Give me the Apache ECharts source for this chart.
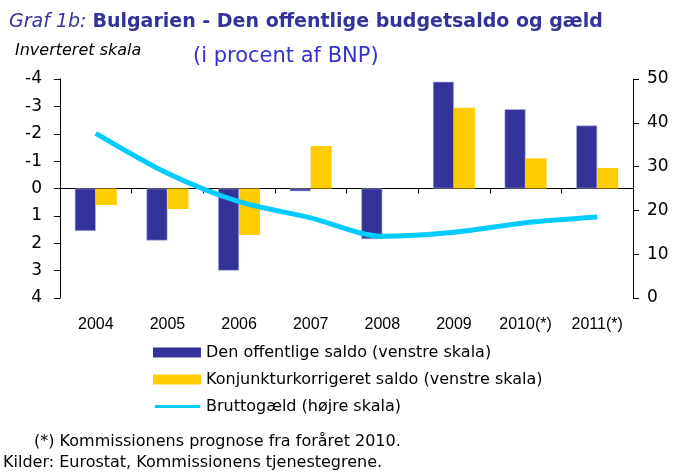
<!DOCTYPE html>
<html>
<head>
<meta charset="utf-8">
<script src="https://cdn.jsdelivr.net/npm/echarts@6/dist/echarts.min.js"></script>
<style>
  html, body { margin: 0; padding: 0; background: #fff; }
  #chart { width: 674px; height: 475px; }
</style>
</head>
<body>
<div id="chart"></div>
<script>
var years = ['2004', '2005', '2006', '2007', '2008', '2009', '2010(*)', '2011(*)']
// inverted scale: deficit is positive (drawn downward)
var saldo = [1.55, 1.9, 3.0, 0.1, 1.85, -3.9, -2.9, -2.3]
var konjunktur = [0.6, 0.75, 1.7, -1.55, null, -2.95, -1.1, -0.75]
var gaeld = [37.6, 28.5, 22.0, 18.3, 14.1, 15.0, 17.2, 18.5]
var leftTicks = [-4, 4, 1]
var rightTicks = [0, 50, 10]

var myChart = echarts.init(document.getElementById('chart'))
var font = 'DejaVu Sans, sans-serif'
var narrow = 'Liberation Sans, Arial, sans-serif'
var lineIcon = 'path://M0,0 L0.01,0 L0,0.01 Z M2,3.5 L46,3.5 Q48,5 46,6.5 L2,6.5 Q0,5 2,3.5 Z M0,10 L0.01,10 L0,9.99 Z'

var option = {
  backgroundColor: '#ffffff',
  animation: false,
  textStyle: { fontFamily: font },
  grid: { left: 60, right: 41, top: 79, bottom: 177 },
  graphic: [
    {
      type: 'text', left: 9, top: 13,
      style: {
        text: '{a|Graf 1b: }{b|Bulgarien - Den offentlige budgetsaldo og gæld}',
        rich: {
          a: { fontFamily: font, fontStyle: 'italic', fontSize: 19, fill: '#333399' },
          b: { fontFamily: font, fontWeight: 'bold', fontSize: 19, fill: '#333399' }
        }
      }
    },
    {
      type: 'text', left: 15, top: 43,
      style: { text: 'Inverteret skala', fontFamily: font, fontStyle: 'italic', fontSize: 16, fill: '#000' }
    },
    {
      type: 'text', left: 193, top: 46,
      style: { text: '(i procent af BNP)', fontFamily: font, fontSize: 21, fill: '#3333cc' }
    },
    {
      type: 'text', left: 34, top: 434,
      style: { text: '(*) Kommissionens prognose fra foråret 2010.', fontFamily: font, fontSize: 16, fill: '#000' }
    },
    {
      type: 'text', left: 3, top: 455,
      style: { text: 'Kilder: Eurostat, Kommissionens tjenestegrene.', fontFamily: font, fontSize: 16, fill: '#000' }
    }
  ],
  legend: {
    orient: 'vertical',
    left: 153,
    top: 343,
    padding: 0,
    itemWidth: 48,
    itemHeight: 10,
    itemGap: 8,
    textStyle: { fontFamily: font, fontSize: 16, color: '#000', lineHeight: 19 },
    data: [
      { name: 'Den offentlige saldo (venstre skala)', icon: 'rect', itemStyle: { borderWidth: 0 } },
      { name: 'Konjunkturkorrigeret saldo (venstre skala)', icon: 'rect' },
      { name: 'Bruttogæld (højre skala)', icon: lineIcon, itemStyle: { color: '#00ccff', borderWidth: 0 } }
    ]
  },
  xAxis: [
    {
      type: 'category',
      data: years,
      position: 'bottom',
      axisLine: { show: false },
      axisTick: { show: false },
      axisLabel: { color: '#000', fontFamily: narrow, fontSize: 16, margin: 19, interval: 0 }
    },
    {
      type: 'category',
      data: years,
      position: 'top',
      axisLine: { show: true, onZero: true, onZeroAxisIndex: 0, lineStyle: { color: '#000', width: 1 } },
      axisTick: { show: true, inside: true, length: 5, lineStyle: { color: '#000' } },
      axisLabel: { show: false }
    }
  ],
  yAxis: [
    {
      type: 'value',
      inverse: true,
      min: leftTicks[0],
      max: leftTicks[1],
      interval: leftTicks[2],
      axisLine: { show: true, lineStyle: { color: '#000' } },
      axisTick: { show: true, length: 6, lineStyle: { color: '#000' } },
      axisLabel: { color: '#000', fontSize: 17, margin: 18 },
      splitLine: { show: false }
    },
    {
      type: 'value',
      min: rightTicks[0],
      max: rightTicks[1],
      interval: rightTicks[2],
      axisLine: { show: true, lineStyle: { color: '#000' } },
      axisTick: { show: true, length: 6, lineStyle: { color: '#000' } },
      axisLabel: { color: '#000', fontSize: 17, margin: 14 },
      splitLine: { show: false }
    }
  ],
  series: [
    {
      name: 'Den offentlige saldo (venstre skala)',
      type: 'bar',
      xAxisIndex: 0,
      yAxisIndex: 0,
      data: saldo,
      barWidth: 21,
      barGap: '0%',
      itemStyle: { color: '#333399', borderColor: '#b8b8e0', borderWidth: 0.6 }
    },
    {
      name: 'Konjunkturkorrigeret saldo (venstre skala)',
      type: 'bar',
      xAxisIndex: 0,
      yAxisIndex: 0,
      data: konjunktur,
      barWidth: 21,
      barGap: '0%',
      itemStyle: { color: '#ffcc00' }
    },
    {
      name: 'Bruttogæld (højre skala)',
      type: 'line',
      xAxisIndex: 0,
      yAxisIndex: 1,
      data: gaeld,
      smooth: 0.3,
      symbol: 'none',
      z: 5,
      lineStyle: { color: '#00ccff', width: 5 },
      itemStyle: { color: '#00ccff' }
    }
  ]
}
myChart.setOption(option, true)
window.addEventListener('resize', () => {
  myChart.resize()
})
</script>
</body>
</html>
